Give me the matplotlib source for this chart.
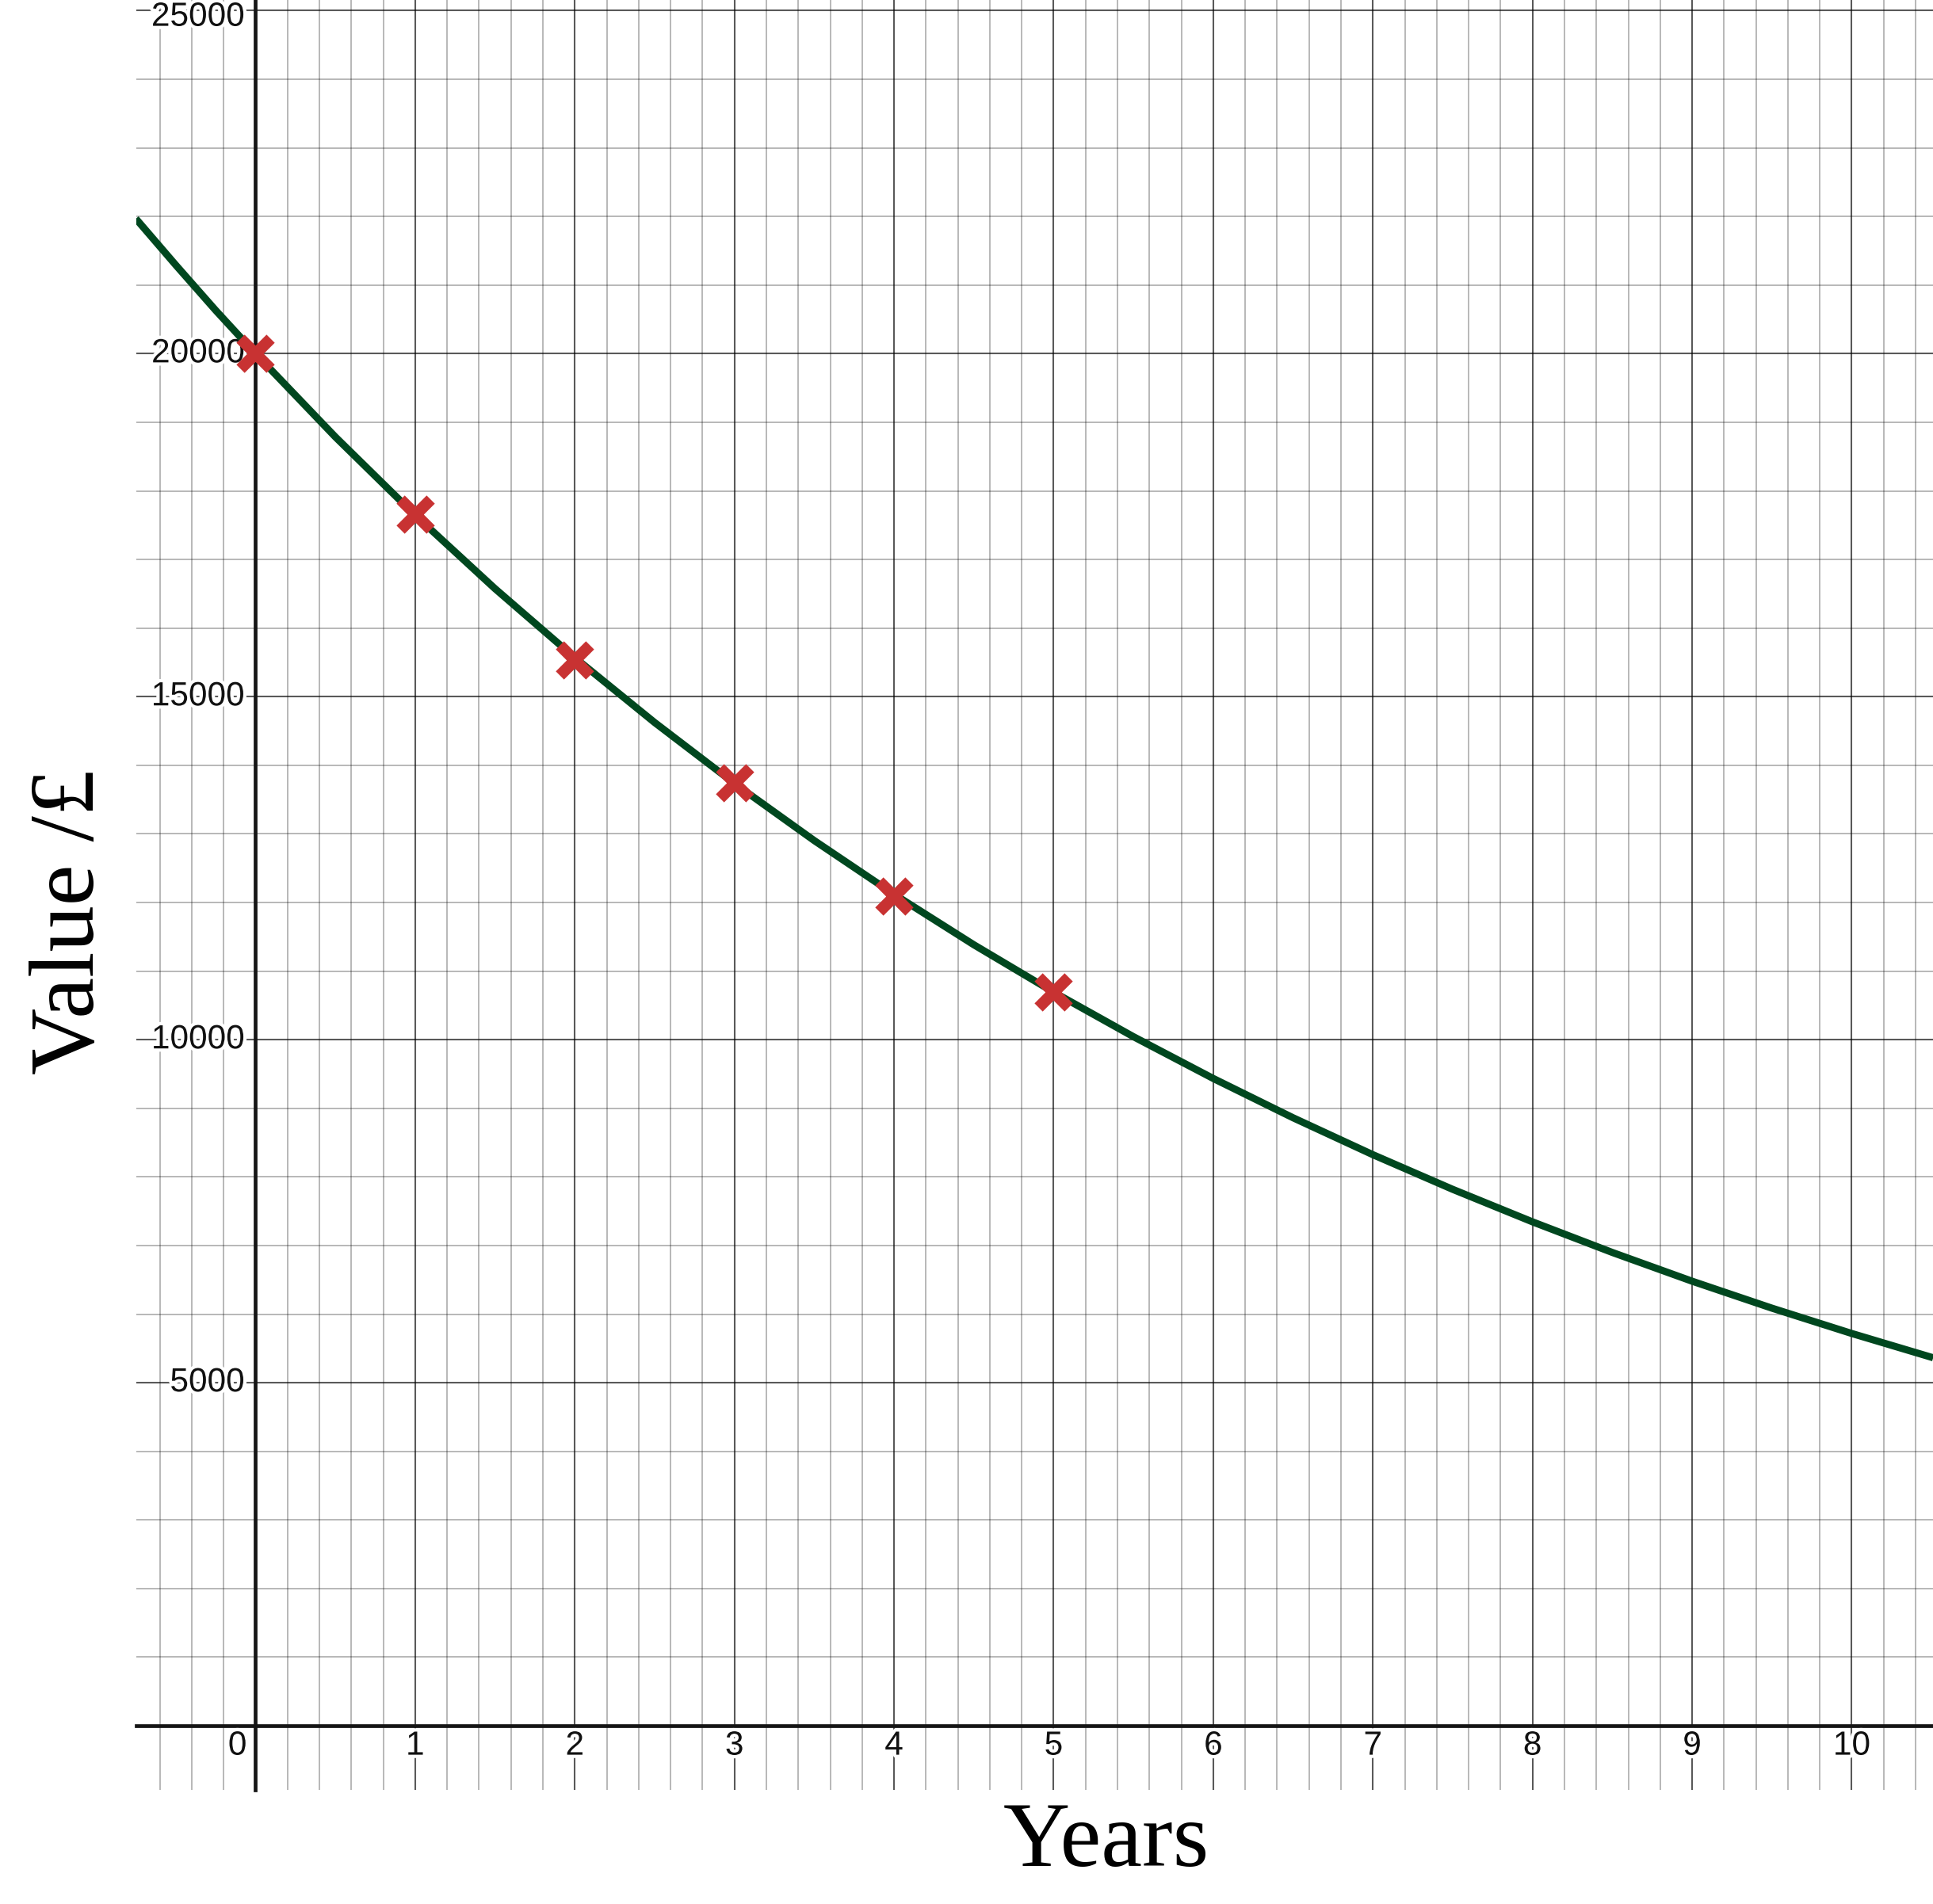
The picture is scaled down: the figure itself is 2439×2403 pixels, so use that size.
import matplotlib
matplotlib.use("Agg")
import matplotlib.pyplot as plt
import matplotlib.patheffects as pe
from matplotlib.ticker import MultipleLocator

# values
years = [0, 1, 2, 3, 4, 5]
value = [20000, 17660, 15540, 13740, 12090, 10690]

# fitted curve, read every half year
curve_years = [-0.75, -0.5, -0.25, 0, 0.5, 1, 1.5, 2, 2.5, 3, 3.5, 4, 4.5, 5,
               5.5, 6, 6.5, 7, 7.5, 8, 8.5, 9, 9.5, 10, 10.51]
curve_value = [21968, 21292, 20632, 20000, 18786, 17646, 16575, 15569, 14624,
               13736, 12903, 12120, 11384, 10693, 10044, 9435, 8862, 8324,
               7819, 7345, 6899, 6480, 6087, 5718, 5364]

x_ticks = [0, 1, 2, 3, 4, 5, 6, 7, 8, 9, 10]
y_ticks = [5000, 10000, 15000, 20000, 25000]

fig = plt.figure(figsize=(24.39, 24.03), dpi=100)
ax = fig.add_axes([172 / 2439, 144 / 2403, 1 - 172 / 2439, 1 - 144 / 2403])
ax.set_xlim(-0.747, 10.509)
ax.set_ylim(-935, 25155)

ax.xaxis.set_major_locator(MultipleLocator(1))
ax.xaxis.set_minor_locator(MultipleLocator(0.2))
ax.yaxis.set_major_locator(MultipleLocator(5000))
ax.yaxis.set_minor_locator(MultipleLocator(1000))
ax.grid(which='major', color='black', alpha=0.65, lw=1.5)
ax.grid(which='minor', color='black', alpha=0.3, lw=1.3)
ax.set_axisbelow(True)
ax.tick_params(which='both', length=0, labelbottom=False, labelleft=False)

for s in ['top', 'right']:
    ax.spines[s].set_visible(False)
ax.spines['left'].set_position(('data', 0))
ax.spines['bottom'].set_position(('data', 0))
for s in ['left', 'bottom']:
    ax.spines[s].set_linewidth(3.4)
    ax.spines[s].set_color('#151515')
    ax.spines[s].set_zorder(2.5)

halo = [pe.withStroke(linewidth=6, foreground='white')]
lab = dict(fontsize=30.5, family='Liberation Sans', color='#111111',
           textcoords='offset points', path_effects=halo, zorder=3)

for v in y_ticks:
    if v == y_ticks[-1]:
        ax.annotate(str(v), (0, v), xytext=(-10, 8.5), ha='right', va='top', **lab)
    else:
        ax.annotate(str(v), (0, v), xytext=(-10, 0), ha='right', va='center', **lab)

for t in x_ticks:
    if t == 0:
        ax.annotate(str(t), (t, 0), xytext=(-8, -4), ha='right', va='top', **lab)
    else:
        ax.annotate(str(t), (t, 0), xytext=(0, -4), ha='center', va='top', **lab)

ax.plot(curve_years, curve_value, color='#00471f', lw=6.5, zorder=4,
        solid_capstyle='butt')
ax.plot(years, value, 'x', color='#c83232', markersize=28, mew=10.5, zorder=5)

fig.text(1396 / 2439, 48 / 2403, 'Years', family='Liberation Serif',
         fontsize=84, ha='center', va='baseline')
fig.text(118 / 2439, 1240 / 2403, 'Value /£', family='Liberation Serif',
         fontsize=84, rotation=90, rotation_mode='anchor',
         ha='center', va='baseline')

fig.savefig('out.png', dpi=100)
